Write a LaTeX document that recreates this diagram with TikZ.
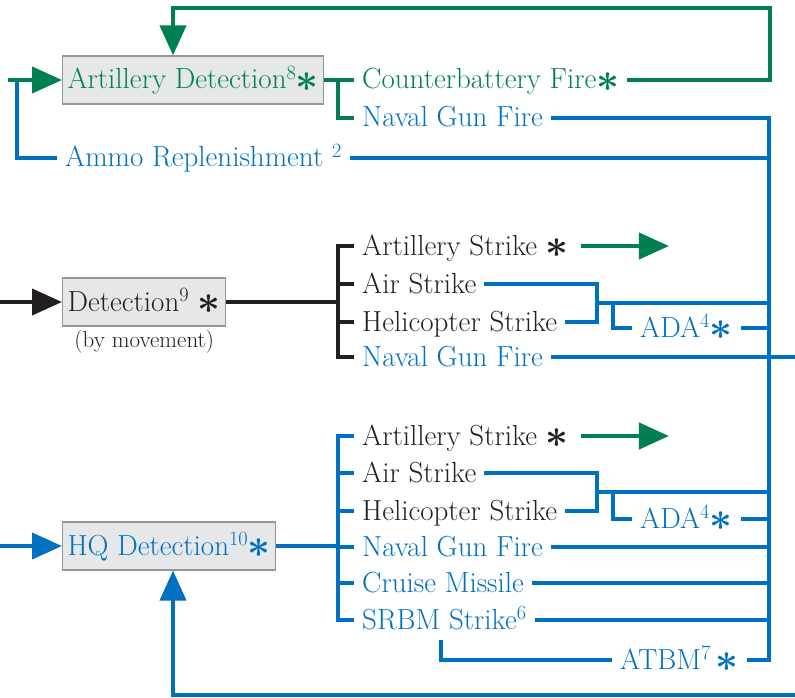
\documentclass[tikz,border=0pt]{standalone}
\usetikzlibrary{arrows.meta,calc,positioning}
\definecolor{armygreen}{RGB}{0,128,78}
\definecolor{navyblue}{RGB}{0,112,192}
\definecolor{inkblack}{RGB}{35,31,32}
\definecolor{boxfill}{RGB}{230,231,232}
\definecolor{boxline}{RGB}{150,150,150}
\newcommand{\bigast}{\raisebox{-0.1em}{\scalebox{1.6}{\boldmath$\ast$}}}

\begin{document}
\begin{tikzpicture}[x=1pt, y=-1pt,
    every node/.style={font=\fontsize{29}{34}\selectfont, inner ysep=0pt,
      text height=21pt, text depth=3pt, anchor=west},
    lbl/.style={inner xsep=8pt},
    detbox/.style={draw=boxline, fill=boxfill, line width=1.2pt,
      minimum height=48pt, inner xsep=5pt},
    wire/.style={line width=4pt},
    grn/.style={wire, armygreen},
    blu/.style={wire, navyblue},
    blk/.style={wire, inkblack},
    arrowhd/.style={-{Triangle[length=30pt, width=26pt]}}]
    \useasboundingbox (0,0) rectangle (795,698);

    % artillery detection
    \node[detbox, text=armygreen] (artdet) at (62,80) {Artillery Detection\textsuperscript{8}\kern-1pt\bigast};
    \node[lbl, text=armygreen] (cbfire) at (354,80) {Counterbattery Fire\bigast};
    \node[lbl, text=navyblue]  (ngfA)   at (354,118) {Naval Gun Fire};
    \node[lbl, text=navyblue]  (ammo)   at (57,158) {Ammo Replenishment \textsuperscript{2}};

    % detection by movement
    \node[detbox, text=inkblack] (det) at (62,302) {Detection\textsuperscript{9} \bigast};
    \node[below=5pt of det, font=\fontsize{23}{27}\selectfont, text=inkblack,
      text height=16pt, text depth=5pt] (bymove) {(by movement)};
    \node[lbl, text=inkblack] (artB)  at (354,246) {Artillery Strike \bigast};
    \node[lbl, text=inkblack] (airB)  at (354,284) {Air Strike};
    \node[lbl, text=inkblack] (heliB) at (354,322) {Helicopter Strike};
    \node[lbl, text=navyblue] (ngfB)  at (354,357) {Naval Gun Fire};
    \node[lbl, text=navyblue] (adaB)  at (632,328) {ADA\textsuperscript{4}\bigast};

    % hq detection
    \node[detbox, text=navyblue] (hq) at (62,546) {HQ Detection\textsuperscript{10}\kern-1pt\bigast};
    \node[lbl, text=inkblack] (artC)   at (354,436) {Artillery Strike \bigast};
    \node[lbl, text=inkblack] (airC)   at (354,473) {Air Strike};
    \node[lbl, text=inkblack] (heliC)  at (354,511) {Helicopter Strike};
    \node[lbl, text=navyblue] (ngfC)   at (354,547) {Naval Gun Fire};
    \node[lbl, text=navyblue] (cruise) at (354,583) {Cruise Missile};
    \node[lbl, text=navyblue] (srbm)   at (354,620) {SRBM Strike\textsuperscript{6}};
    \node[lbl, text=navyblue] (adaC)   at (632,519) {ADA\textsuperscript{4}\bigast};
    \node[lbl, text=navyblue] (atbm)   at (612,660) {ATBM\textsuperscript{7}\,\bigast};

    \coordinate (inA)   at (8,80);
    \coordinate (backA) at (17,80);
    \coordinate (brA)   at (338,80);
    \coordinate (loopA) at (770,8);
    \coordinate (dropA) at (173,8);
    \coordinate (inB)   at (0,302);
    \coordinate (inC)   at (0,546);
    \coordinate (trunk) at (769,660);
    \coordinate (edge)  at (795,0);
    \coordinate (brk)   at (338,0);
    \coordinate (fork)  at (597,0);
    \coordinate (adax)  at (613,0);
    \coordinate (atbmL) at (441,640);
    \coordinate (loopC) at (795,695);
    \coordinate (riseC) at (173,695);

    % top
    \draw[blu] (ammo.west) -| (backA);
    \draw[grn, arrowhd] (inA) -- (artdet.west);
    \draw[grn] (artdet.east) -- (cbfire.west);
    \draw[grn] (brA) |- (ngfA.west);
    \draw[grn, arrowhd] (cbfire.east) -| (loopA) -| (dropA |- artdet.north);
    \draw[blu] (ngfA.east) -| (trunk) -- (atbm.east);
    \draw[blu] (ammo.east) -- (ammo.east -| trunk);

    % middle
    \draw[blk, arrowhd] (inB) -- (det.west);
    \draw[blk] (det.east) -- (det.east -| brk);
    \draw[blk] (artB.west) -- (artB.west -| brk) -- (ngfB.west -| brk) -- (ngfB.west);
    \foreach \n in {airB, heliB}
      \draw[blk] (\n.west -| brk) -- (\n.west);
    \draw[grn, arrowhd] ([xshift=4pt]artB.east) -- ++(88,0);
    \draw[blu] (airB.east) -- (airB.east -| fork) -- (heliB.east -| fork) -- (heliB.east);
    \coordinate (joinB) at ($(airB.east -| fork)!0.5!(heliB.east -| fork)$);
    \draw[blu] (joinB) -- (joinB -| trunk);
    \draw[blu] (joinB -| adax) |- (adaB.west);
    \draw[blu] (adaB.east) -- (adaB.east -| trunk);
    \draw[blu] (ngfB.east) -- (ngfB.east -| edge);

    % bottom
    \draw[blu, arrowhd] (inC) -- (hq.west);
    \draw[blu] (hq.east) -- (hq.east -| brk);
    \draw[blu] (artC.west) -- (artC.west -| brk) -- (srbm.west -| brk) -- (srbm.west);
    \foreach \n in {airC, heliC, ngfC, cruise}
      \draw[blu] (\n.west -| brk) -- (\n.west);
    \draw[grn, arrowhd] ([xshift=4pt]artC.east) -- ++(88,0);
    \draw[blu] (airC.east) -- (airC.east -| fork) -- (heliC.east -| fork) -- (heliC.east);
    \coordinate (joinC) at ($(airC.east -| fork)!0.5!(heliC.east -| fork)$);
    \draw[blu] (joinC) -- (joinC -| trunk);
    \draw[blu] (joinC -| adax) |- (adaC.west);
    \draw[blu] (adaC.east) -- (adaC.east -| trunk);
    \foreach \n in {ngfC, cruise, srbm}
      \draw[blu] (\n.east) -- (\n.east -| trunk);
    \draw[blu] (atbmL) |- (atbm.west);
    \draw[blu, arrowhd] (loopC) -- (riseC) -- (riseC |- hq.south);

  \end{tikzpicture}
\end{document}
